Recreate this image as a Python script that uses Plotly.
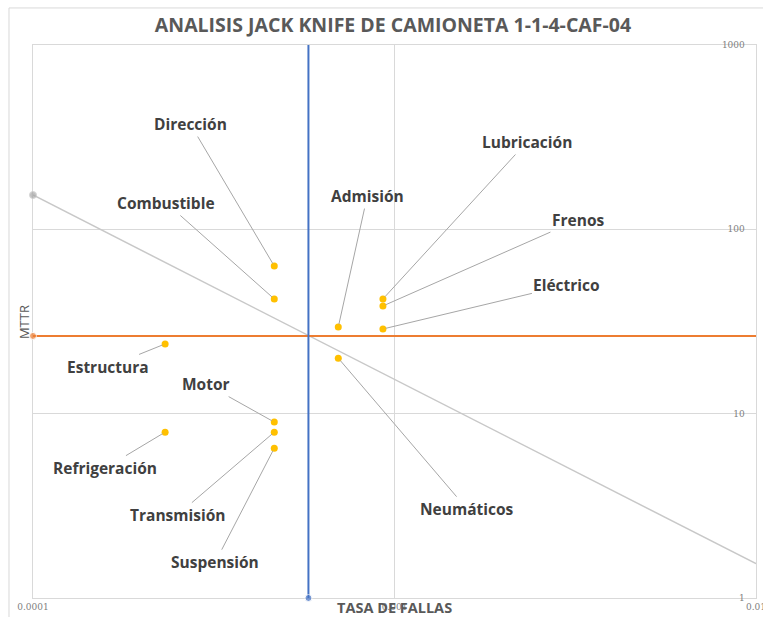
import math
import plotly.graph_objects as go

categories = ["Dirección", "Combustible", "Admisión", "Lubricación", "Frenos", "Eléctrico",
              "Neumáticos", "Estructura", "Motor", "Refrigeración", "Transmisión", "Suspensión"]
failure_rate = [0.000465, 0.000465, 0.000699, 0.000929, 0.000929, 0.000929,
                0.000699, 0.000232, 0.000465, 0.000232, 0.000465, 0.000465]
mttr = [63.2, 41.9, 29.5, 41.9, 38.4, 28.8, 20.0, 23.9, 9.0, 7.94, 7.94, 6.5]

# label offsets (pixels) from each point
label_dx = [-84, -108, 29, 144, 195, 184, 129, -57, -68, -60, -97, -59]
label_dy = [-142, -96, -131, -157, -86, -44, 151, 23, -38, 36, 83, 114]

rate_threshold = 0.000578
mttr_threshold = 26.4
limit_x = [0.0001, 0.01]
limit_y = [153.5, 1.535]

x_ticks = [0.0001, 0.001, 0.01]
x_tick_text = ["0.0001", "0.001", "0.01"]
y_ticks = [1, 10, 100, 1000]
y_tick_text = ["1", "10", "100", "1000"]

fig = go.Figure()

fig.add_trace(go.Scatter(x=limit_x, y=limit_y, mode="lines+markers",
                         line=dict(color="#c8c8c8", width=1.5),
                         marker=dict(color="#a6a6a6", size=[7, 0]),
                         cliponaxis=False, showlegend=False, hoverinfo="skip"))
fig.add_trace(go.Scatter(x=[x_ticks[0], x_ticks[-1]], y=[mttr_threshold, mttr_threshold],
                         mode="lines+markers",
                         line=dict(color="#ed7d31", width=2),
                         marker=dict(color="#ed7d31", size=[7, 0]),
                         cliponaxis=False, showlegend=False, hoverinfo="skip"))
fig.add_trace(go.Scatter(x=[rate_threshold, rate_threshold], y=[y_ticks[0], y_ticks[-1]],
                         mode="lines+markers",
                         line=dict(color="#4472c4", width=2),
                         marker=dict(color="#4472c4", size=[7, 0]),
                         cliponaxis=False, showlegend=False, hoverinfo="skip"))
fig.add_trace(go.Scatter(x=failure_rate, y=mttr, mode="markers",
                         marker=dict(color="#ffc000", size=7),
                         text=categories, showlegend=False))

for c, xv, yv, dx, dy in zip(categories, failure_rate, mttr, label_dx, label_dy):
    fig.add_annotation(x=math.log10(xv), y=math.log10(yv), xref="x", yref="y", text=c,
                       showarrow=True, arrowhead=0, arrowwidth=1, arrowcolor="#a6a6a6",
                       ax=dx, ay=dy, standoff=3,
                       font=dict(family="Open Sans", size=15.5, color="#404040", weight="bold"))

fig.add_annotation(text="TASA DE FALLAS", xref="paper", yref="paper", x=0.5, y=-0.0163,
                   yanchor="middle", showarrow=False,
                   font=dict(family="Open Sans", size=14.5, color="#595959", weight="bold"))
fig.add_annotation(text="MTTR", xref="paper", yref="paper", x=-0.0124, y=0.499,
                   xanchor="center", yanchor="middle", textangle=-90, showarrow=False,
                   font=dict(family="Open Sans", size=13, color="#595959"))

fig.add_shape(type="rect", xref="paper", yref="paper", x0=-0.0332, x1=1.02, y0=-0.08, y1=1.067,
              line=dict(color="#d9d9d9", width=1), layer="below")

fig.update_layout(
    width=763, height=617,
    margin=dict(l=33, r=7, t=45, b=19, autoexpand=False),
    paper_bgcolor="white", plot_bgcolor="white",
    title=dict(text="ANALISIS JACK KNIFE DE CAMIONETA 1-1-4-CAF-04", x=0.515, xanchor="center",
               y=0.9587, yanchor="middle",
               font=dict(family="Open Sans", size=19.5, color="#595959", weight="bold")),
    xaxis=dict(type="log", range=[-4, -2], tickvals=x_ticks, ticktext=x_tick_text,
               showgrid=True, gridcolor="#d9d9d9", gridwidth=1, zeroline=False,
               showline=True, mirror=True, linecolor="#d9d9d9", linewidth=1,
               layer="below traces",
               ticks="", ticklabeloverflow="allow", automargin=False,
               tickfont=dict(family="DejaVu Serif", size=9, color="#808080")),
    yaxis=dict(type="log", range=[0, 3], tickvals=y_ticks, ticktext=y_tick_text,
               side="right", ticklabelposition="inside", ticklabelstandoff=10,
               ticklabeloverflow="allow", automargin=False,
               showgrid=True, gridcolor="#d9d9d9", gridwidth=1, zeroline=False,
               showline=True, mirror=True, linecolor="#d9d9d9", linewidth=1,
               layer="below traces",
               ticks="",
               tickfont=dict(family="DejaVu Serif", size=9, color="#808080")),
)

fig.write_html("out.html", config={"displayModeBar": False},
               post_script="document.body.style.margin='0';")
